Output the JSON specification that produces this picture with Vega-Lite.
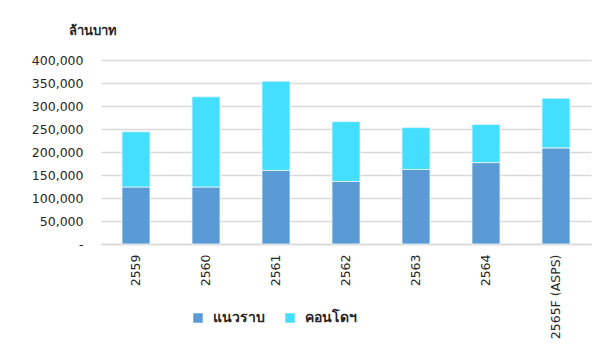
{
  "$schema": "https://vega.github.io/schema/vega-lite/v6.json",
  "autosize": {"type": "none"},
  "width": 490,
  "height": 184,
  "padding": {"left": 101, "top": 60, "right": 16, "bottom": 101},
  "background": "#ffffff",
  "config": {
    "font": "Liberation Sans",
    "view": {"stroke": null}
  },
  "data": {
    "values": [
      {"year": "2559", "type": "แนวราบ", "value": 124000},
      {"year": "2559", "type": "คอนโดฯ", "value": 120000},
      {"year": "2560", "type": "แนวราบ", "value": 124000},
      {"year": "2560", "type": "คอนโดฯ", "value": 196000},
      {"year": "2561", "type": "แนวราบ", "value": 160000},
      {"year": "2561", "type": "คอนโดฯ", "value": 194000},
      {"year": "2562", "type": "แนวราบ", "value": 136000},
      {"year": "2562", "type": "คอนโดฯ", "value": 130000},
      {"year": "2563", "type": "แนวราบ", "value": 162000},
      {"year": "2563", "type": "คอนโดฯ", "value": 91000},
      {"year": "2564", "type": "แนวราบ", "value": 177000},
      {"year": "2564", "type": "คอนโดฯ", "value": 83000},
      {"year": "2565F (ASPS)", "type": "แนวราบ", "value": 209000},
      {"year": "2565F (ASPS)", "type": "คอนโดฯ", "value": 108000}
    ]
  },
  "mark": {"type": "bar", "stroke": "#e8f6ff", "strokeWidth": 0.8},
  "encoding": {
    "x": {
      "field": "year",
      "type": "nominal",
      "sort": null,
      "scale": {"paddingInner": 0.6, "paddingOuter": 0.3},
      "axis": {
        "title": null,
        "labelAngle": -90,
        "labelAlign": "right",
        "labelBaseline": "middle",
        "labelPadding": 10,
        "ticks": false,
        "domainColor": "#d9d9d9",
        "domainWidth": 1.5,
        "labelFont": "DejaVu Sans",
        "labelFontSize": 12.5,
        "labelColor": "#262626"
      }
    },
    "y": {
      "field": "value",
      "type": "quantitative",
      "stack": "zero",
      "scale": {"domain": [0, 400000], "nice": false},
      "axis": {
        "title": "ล้านบาท",
        "titleAngle": 0,
        "titleAlign": "left",
        "titleBaseline": "middle",
        "titleX": -33,
        "titleY": -30,
        "titleFontSize": 13,
        "titleFontWeight": "bold",
        "titleColor": "#262626",
        "values": [0, 50000, 100000, 150000, 200000, 250000, 300000, 350000, 400000],
        "labelOverlap": false,
        "labelExpr": "datum.value == 0 ? '-' : format(datum.value, ',')",
        "labelFont": "DejaVu Sans",
        "labelFontSize": 12.5,
        "labelColor": "#262626",
        "labelPadding": 18,
        "ticks": false,
        "domain": false,
        "gridColor": "#d9d9d9",
        "gridWidth": 1.5
      }
    },
    "color": {
      "field": "type",
      "type": "nominal",
      "scale": {"domain": ["แนวราบ", "คอนโดฯ"], "range": ["#5b9bd5", "#44dfff"]},
      "legend": {
        "title": null,
        "orient": "none",
        "direction": "horizontal",
        "legendX": 90,
        "legendY": 251,
        "symbolType": "square",
        "symbolSize": 90,
        "symbolStrokeWidth": 0,
        "labelFontSize": 14,
        "labelFontWeight": "bold",
        "labelColor": "#262626",
        "columnPadding": 18,
        "labelOffset": 8
      }
    },
    "order": {"field": "type", "sort": "descending"}
  }
}
